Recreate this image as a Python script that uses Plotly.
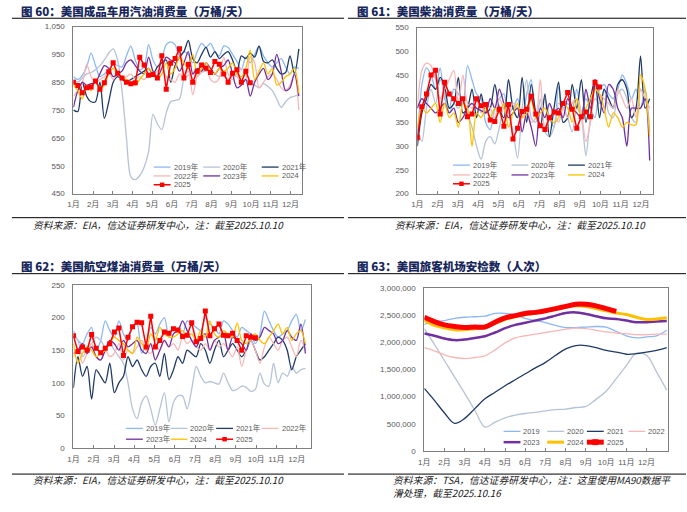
import plotly.graph_objects as go

W, H = 687, 512

# ---------------- data ----------------
month_labels = ["1月", "2月", "3月", "4月", "5月", "6月", "7月", "8月", "9月", "10月", "11月", "12月"]
years = ["2019", "2020", "2021", "2022", "2023", "2024", "2025"]

# Fig 60: US finished motor gasoline consumption (10k bbl/day), weekly
gas_2019 = [870, 860, 875, 905, 955, 910, 870, 880, 895, 915, 910, 905, 945, 980, 930, 895, 905, 985, 930, 905, 935, 985, 995, 985, 945, 960, 950, 920, 960, 990, 975, 990, 960, 945, 980, 975, 950, 925, 895, 940, 920, 950, 980, 945, 920, 905, 920, 935, 905, 880, 905, 900]
gas_2020 = [860, 850, 865, 880, 885, 895, 910, 930, 955, 970, 930, 820, 650, 510, 500, 515, 545, 600, 735, 700, 680, 740, 780, 785, 790, 860, 875, 880, 870, 885, 890, 895, 880, 870, 880, 860, 875, 870, 850, 860, 845, 840, 830, 845, 835, 820, 790, 760, 780, 795, 800, 805]
gas_2021 = [750, 745, 850, 800, 780, 780, 850, 720, 780, 850, 870, 860, 850, 860, 870, 880, 890, 900, 880, 905, 920, 930, 850, 910, 940, 960, 1000, 935, 920, 950, 975, 940, 960, 935, 950, 960, 930, 890, 945, 935, 955, 940, 980, 925, 920, 930, 900, 880, 885, 945, 880, 970]
gas_2022 = [800, 820, 845, 915, 870, 850, 860, 870, 885, 860, 880, 860, 870, 880, 860, 870, 860, 875, 880, 890, 900, 870, 860, 850, 880, 870, 890, 805, 870, 890, 910, 860, 850, 865, 940, 880, 860, 880, 850, 860, 940, 920, 830, 850, 870, 880, 860, 830, 820, 840, 880, 750]
gas_2023 = [760, 820, 850, 840, 845, 850, 880, 910, 900, 870, 880, 890, 920, 930, 910, 890, 880, 940, 890, 870, 900, 940, 930, 920, 890, 920, 960, 880, 900, 890, 920, 900, 880, 900, 910, 930, 880, 830, 840, 860, 800, 850, 880, 900, 860, 880, 950, 890, 820, 830, 880, 800]
gas_2024 = [840, 820, 790, 840, 820, 860, 820, 840, 880, 900, 880, 870, 860, 850, 840, 860, 880, 900, 880, 860, 880, 920, 880, 900, 940, 920, 900, 950, 880, 900, 920, 890, 880, 900, 890, 900, 920, 880, 870, 900, 965, 860, 890, 920, 880, 900, 840, 850, 870, 880, 900, 810]
gas_2025 = [850, 838, 812, 830, 833, 855, 825, 848, 888, 920, 882, 865, 850, 845, 848, 940, 912, 875, 878, 865, 945, 825, 918, 935, 970, 865, 915, 850, 890, 912, 900, 885, 925, 915, 880, 850, 882, 895, 850, 890, 848]

# Fig 61: US distillate consumption (10k bbl/day), weekly
dsl_2019 = [310, 430, 465, 450, 420, 465, 400, 380, 420, 410, 390, 470, 440, 410, 400, 350, 335, 380, 400, 410, 370, 380, 400, 360, 410, 440, 360, 380, 400, 360, 340, 425, 380, 390, 380, 420, 370, 400, 380, 360, 420, 430, 410, 400, 420, 450, 430, 400, 420, 380, 420, 330]
dsl_2020 = [340, 310, 380, 420, 390, 440, 410, 370, 390, 380, 400, 370, 340, 300, 272, 310, 320, 305, 340, 380, 370, 330, 275, 380, 440, 360, 350, 400, 330, 320, 340, 390, 380, 360, 330, 380, 360, 280, 360, 400, 390, 420, 370, 360, 410, 420, 400, 360, 350, 420, 400, 380]
dsl_2021 = [300, 370, 400, 430, 420, 445, 425, 380, 390, 445, 370, 380, 420, 360, 410, 370, 380, 430, 380, 360, 440, 380, 360, 445, 350, 430, 370, 340, 410, 320, 380, 435, 350, 360, 430, 380, 440, 350, 400, 440, 360, 420, 400, 380, 430, 440, 420, 360, 380, 490, 380, 400]
dsl_2022 = [380, 460, 475, 470, 440, 400, 420, 440, 460, 390, 450, 390, 380, 400, 370, 390, 380, 360, 400, 380, 370, 390, 380, 360, 380, 350, 360, 440, 340, 360, 370, 350, 380, 360, 390, 400, 370, 310, 350, 420, 410, 400, 390, 380, 420, 400, 380, 400, 360, 420, 400, 380]
dsl_2023 = [380, 400, 390, 380, 370, 380, 390, 370, 380, 350, 360, 380, 390, 380, 375, 370, 400, 380, 420, 390, 360, 370, 380, 330, 370, 340, 300, 380, 360, 390, 370, 380, 360, 400, 380, 370, 360, 420, 380, 440, 400, 370, 430, 420, 380, 360, 300, 380, 380, 380, 400, 270]
dsl_2024 = [340, 380, 370, 380, 390, 350, 390, 360, 370, 340, 390, 380, 300, 370, 360, 380, 360, 380, 370, 390, 340, 370, 390, 360, 370, 400, 360, 370, 380, 360, 350, 360, 390, 380, 350, 400, 360, 380, 400, 420, 410, 380, 340, 370, 360, 340, 350, 345, 345, 450, 420, 320]
dsl_2025 = [318, 383, 410, 450, 460, 368, 435, 410, 400, 390, 400, 362, 368, 400, 385, 388, 355, 352, 378, 342, 388, 315, 338, 373, 378, 405, 368, 343, 335, 360, 372, 370, 390, 413, 378, 338, 362, 372, 362, 435, 425]

# Fig 62: US kerosene-type jet fuel consumption (10k bbl/day), weekly
jet_2019 = [180, 165, 160, 175, 185, 150, 165, 195, 180, 170, 195, 175, 165, 185, 190, 145, 160, 185, 175, 190, 200, 170, 185, 180, 175, 195, 190, 185, 180, 200, 190, 185, 175, 195, 190, 180, 170, 185, 180, 175, 160, 175, 210, 195, 180, 170, 175, 180, 195, 205, 180, 197]
jet_2020 = [175, 165, 140, 150, 160, 170, 165, 155, 160, 150, 140, 130, 100, 60, 45, 70, 80, 60, 35, 60, 85, 40, 70, 80, 80, 60, 90, 125, 110, 100, 102, 100, 98, 115, 100, 88, 90, 95, 93, 87, 90, 115, 98, 95, 130, 100, 115, 110, 125, 115, 120, 122]
jet_2021 = [92, 140, 110, 125, 75, 120, 110, 100, 130, 85, 100, 110, 140, 125, 135, 120, 110, 125, 130, 110, 145, 105, 120, 140, 130, 150, 145, 140, 160, 150, 130, 150, 165, 140, 150, 160, 150, 140, 150, 165, 150, 135, 140, 150, 160, 170, 165, 150, 120, 140, 150, 160]
jet_2022 = [140, 150, 130, 145, 160, 140, 135, 150, 140, 145, 160, 135, 150, 145, 155, 165, 150, 145, 160, 150, 165, 155, 160, 150, 170, 160, 165, 155, 150, 160, 150, 165, 155, 160, 150, 140, 155, 125, 150, 165, 150, 130, 155, 170, 160, 150, 165, 170, 155, 140, 165, 150]
jet_2023 = [145, 150, 160, 145, 155, 140, 135, 150, 165, 160, 150, 165, 155, 160, 165, 150, 145, 160, 135, 150, 165, 155, 175, 180, 195, 180, 165, 155, 170, 175, 150, 165, 170, 175, 150, 170, 165, 160, 150, 175, 165, 170, 185, 180, 175, 160, 165, 180, 170, 165, 190, 145]
jet_2024 = [160, 130, 145, 155, 150, 140, 145, 150, 160, 170, 165, 160, 150, 145, 170, 160, 150, 175, 165, 185, 175, 170, 170, 175, 180, 170, 175, 165, 180, 170, 195, 175, 170, 180, 175, 170, 192, 165, 160, 170, 175, 165, 160, 170, 180, 190, 175, 185, 165, 175, 180, 160]
jet_2025 = [172, 148, 155, 150, 174, 153, 146, 153, 160, 178, 184, 142, 170, 186, 193, 192, 155, 202, 155, 165, 178, 176, 183, 181, 171, 173, 192, 163, 168, 210, 172, 183, 190, 173, 172, 176, 165, 150, 172, 170, 169]

# Fig 63: TSA checkpoint travel numbers (MA90), sampled every half month
tsa_month = [0, 0.5, 1, 1.5, 2, 2.5, 3, 3.5, 4, 4.5, 5, 5.5, 6, 6.5, 7, 7.5, 8, 8.5, 9, 9.5, 10, 10.5, 11, 11.5, 12]
tsa_2019 = [2330000, 2380000, 2400000, 2440000, 2460000, 2470000, 2480000, 2530000, 2530000, 2500000, 2440000, 2400000, 2360000, 2310000, 2270000, 2270000, 2280000, 2290000, 2280000, 2200000, 2120000, 2080000, 2100000, 2120000, 2220000]
tsa_2020 = [2250000, 1960000, 1660000, 1360000, 1060000, 750000, 440000, 530000, 610000, 660000, 690000, 710000, 740000, 760000, 770000, 800000, 820000, 950000, 1100000, 1330000, 1570000, 1800000, 1760000, 1450000, 1120000]
tsa_2021 = [1150000, 930000, 700000, 510000, 600000, 780000, 960000, 1080000, 1200000, 1310000, 1420000, 1530000, 1630000, 1760000, 1880000, 1940000, 1940000, 1900000, 1850000, 1820000, 1780000, 1790000, 1820000, 1850000, 1900000]
tsa_2022 = [1900000, 1840000, 1770000, 1720000, 1700000, 1720000, 1750000, 1860000, 1990000, 2080000, 2120000, 2150000, 2180000, 2210000, 2240000, 2260000, 2250000, 2220000, 2190000, 2170000, 2160000, 2140000, 2140000, 2150000, 2150000]
tsa_2023 = [2160000, 2120000, 2070000, 2040000, 2050000, 2080000, 2110000, 2180000, 2260000, 2320000, 2360000, 2400000, 2440000, 2490000, 2540000, 2550000, 2520000, 2480000, 2440000, 2430000, 2400000, 2370000, 2370000, 2380000, 2390000]
tsa_2024 = [2400000, 2310000, 2260000, 2230000, 2230000, 2250000, 2270000, 2350000, 2420000, 2470000, 2510000, 2540000, 2570000, 2610000, 2650000, 2670000, 2660000, 2620000, 2580000, 2540000, 2510000, 2460000, 2420000, 2430000, 2450000]
tsa_2025 = [2460000, 2380000, 2320000, 2290000, 2270000, 2280000, 2280000, 2370000, 2450000, 2490000, 2530000, 2550000, 2580000, 2620000, 2660000, 2700000, 2700000, 2670000, 2620000, 2570000]

titles = ["图 60：美国成品车用汽油消费量（万桶/天）", "图 61：美国柴油消费量（万桶/天）",
          "图 62：美国航空煤油消费量（万桶/天）", "图 63：美国旅客机场安检数（人次）"]
sources = ["资料来源：EIA，信达证券研发中心，注：截至2025.10.10",
           "资料来源：EIA，信达证券研发中心，注：截至2025.10.10",
           "资料来源：EIA，信达证券研发中心，注：截至2025.10.10",
           "资料来源：TSA，信达证券研发中心，注：这里使用MA90数据平",
           "滑处理，截至2025.10.16"]

# ---------------- style ----------------
FONT = "Noto Sans CJK SC"
LATIN = "Liberation Sans, Noto Sans CJK SC"
TICK_C = "#595959"
colors = {"2019": "#8DB8F2", "2020": "#B6C3D6", "2021": "#1F3A66", "2022": "#F7B7B7",
          "2023": "#7030A0", "2024": "#FFC000", "2025": "#FF0000"}


def px(x):
    return x / W


def py(y):
    return 1 - y / H


fig = go.Figure()

weeks_per_month = 52 / 11.65
week_ticks = [m * weeks_per_month for m in range(12)]

panels = [
    dict(data=[gas_2019, gas_2020, gas_2021, gas_2022, gas_2023, gas_2024, gas_2025], ax="", dom=(68, 299, 23, 193),
         yr=[450, 1050], dt=100, xr=[0, 51.8], suffix=True, kind="weekly",
         leg_cols=[149, 199, 258], leg_rows=[166, 175, 184]),
    dict(data=[dsl_2019, dsl_2020, dsl_2021, dsl_2022, dsl_2023, dsl_2024, dsl_2025], ax="2", dom=(415, 653, 24, 193),
         yr=[200, 550], dt=50, xr=[0, 51.8], suffix=True, kind="weekly",
         leg_cols=[451, 510, 567], leg_rows=[164, 174, 183]),
    dict(data=[jet_2019, jet_2020, jet_2021, jet_2022, jet_2023, jet_2024, jet_2025], ax="3", dom=(68, 308, 286, 452),
         yr=[0, 250], dt=50, xr=[0, 52.3], suffix=True, kind="weekly",
         leg_cols=[121, 166, 212, 258], leg_rows=[432, 443]),
    dict(data=[tsa_2019, tsa_2020, tsa_2021, tsa_2022, tsa_2023, tsa_2024, tsa_2025], ax="4", dom=(422, 668, 289, 455),
         yr=[0, 3000000], dt=500000, xr=[0, 12.07], suffix=False, kind="tsa",
         leg_cols=[502, 546, 586, 628], leg_rows=[435, 446]),
]

shapes = []
annotations = []

for p in panels:
    ax = p["ax"]
    xa, ya = "x" + ax, "y" + ax
    styles = []
    for yr_name, vals in zip(years, p["data"]):
        col = colors[yr_name]
        if p["kind"] == "weekly":
            xs = list(range(len(vals)))
            if yr_name == "2025":
                st = dict(width=1.5, marker=True, msize=4.5)
                fig.add_trace(go.Scatter(x=xs, y=vals, mode="lines+markers", xaxis=xa, yaxis=ya,
                                         line=dict(color=col, width=1.5),
                                         marker=dict(color=col, size=5, symbol="square"),
                                         name=yr_name, showlegend=False))
            else:
                st = dict(width=1.3, marker=False)
                fig.add_trace(go.Scatter(x=xs, y=vals, mode="lines", xaxis=xa, yaxis=ya,
                                         line=dict(color=col, width=1.3, shape="spline", smoothing=0.8),
                                         name=yr_name, showlegend=False))
        else:
            xs = tsa_month[:len(vals)]
            wdt = {"2023": 2.5, "2024": 3, "2025": 5}.get(yr_name, 1.3)
            st = dict(width=wdt, marker=(yr_name == "2025"), msize=6)
            fig.add_trace(go.Scatter(x=xs, y=vals, mode="lines", xaxis=xa, yaxis=ya,
                                     line=dict(color=col, width=wdt, shape="spline"),
                                     name=yr_name, showlegend=False))
        styles.append((yr_name, col, st))

    x0, x1, y0, y1 = p["dom"]
    xkey = "xaxis" + ax
    ykey = "yaxis" + ax
    tv = week_ticks if p["kind"] == "weekly" else list(range(12))
    fig.update_layout(**{
        xkey: dict(domain=[px(x0), px(x1)], anchor=ya, range=p["xr"], tickvals=tv, ticktext=month_labels,
                   showline=True, mirror=True, linecolor="#7F7F7F", linewidth=1,
                   ticks="inside", ticklen=3, tickcolor="#7F7F7F", showgrid=False, zeroline=False,
                   tickfont=dict(family=LATIN, size=8, color=TICK_C), ticklabelstandoff=3),
        ykey: dict(domain=[py(y1), py(y0)], anchor=xa, range=p["yr"], dtick=p["dt"], tick0=p["yr"][0],
                   tickformat=",d", showline=True, mirror=True, linecolor="#7F7F7F", linewidth=1,
                   ticks="", showgrid=False, zeroline=False,
                   tickfont=dict(family=LATIN, size=8, color=TICK_C), ticklabelstandoff=6),
    })

    # legend laid out in rows/columns like the original
    ncols = len(p["leg_cols"])
    for i, (yr_name, col, st) in enumerate(styles):
        r, c = divmod(i, ncols)
        lx = p["leg_cols"][c]
        ly = p["leg_rows"][r]
        klen = 17
        shapes.append(dict(type="line", xref="paper", yref="paper", x0=px(lx), x1=px(lx + klen),
                           y0=py(ly), y1=py(ly), line=dict(color=col, width=st["width"])))
        if st["marker"]:
            s = st["msize"] / 2
            shapes.append(dict(type="rect", xref="paper", yref="paper",
                               x0=px(lx + klen / 2 - s), x1=px(lx + klen / 2 + s),
                               y0=py(ly + s), y1=py(ly - s), fillcolor=col, line=dict(width=0)))
        label = yr_name + ("年" if (p["suffix"] and yr_name < "2024") else "")
        annotations.append(dict(xref="paper", yref="paper", x=px(lx + klen + 2), y=py(ly), text=label,
                                showarrow=False, xanchor="left", yanchor="middle", borderpad=0,
                                font=dict(family=LATIN, size=7.5, color=TICK_C)))

# titles, rules, sources
title_pos = [(13, 7.5), (352, 7.5), (13, 267), (352, 267)]
for (tx, ty), t in zip(title_pos, titles):
    annotations.append(dict(xref="paper", yref="paper", x=px(tx), y=py(ty), text=t,
                            showarrow=False, xanchor="left", yanchor="middle",
                            font=dict(family=FONT, size=11.5, color="#17275C", weight=900)))

rules = [(6, 341, 14.5), (345, 686, 14.5), (6, 341, 274.5), (345, 686, 274.5),
         (6, 341, 217.5), (345, 686, 217.5), (6, 341, 478.5), (345, 686, 478.5)]
for xa0, xa1, yy in rules:
    shapes.append(dict(type="line", xref="paper", yref="paper", x0=px(xa0), x1=px(xa1),
                       y0=py(yy), y1=py(yy), line=dict(color="#000000", width=1)))

src_pos = [(25, 224.5), (390, 224.5), (25, 484.5), (388, 484.5), (388, 497.5)]
for (sx, sy), s in zip(src_pos, sources):
    annotations.append(dict(xref="paper", yref="paper", x=px(sx), y=py(sy), text="<i>" + s + "</i>",
                            showarrow=False, xanchor="left", yanchor="middle",
                            font=dict(family=FONT, size=9.8, color="#1A1A1A")))

fig.update_layout(width=W, height=H, margin=dict(l=0, r=0, t=0, b=0),
                  paper_bgcolor="white", plot_bgcolor="white", showlegend=False,
                  shapes=shapes, annotations=annotations, font=dict(family=FONT))

fig.write_html("out.html", config={"displayModeBar": False},
               post_script="document.body.style.margin='0';document.body.style.overflow='hidden';")
